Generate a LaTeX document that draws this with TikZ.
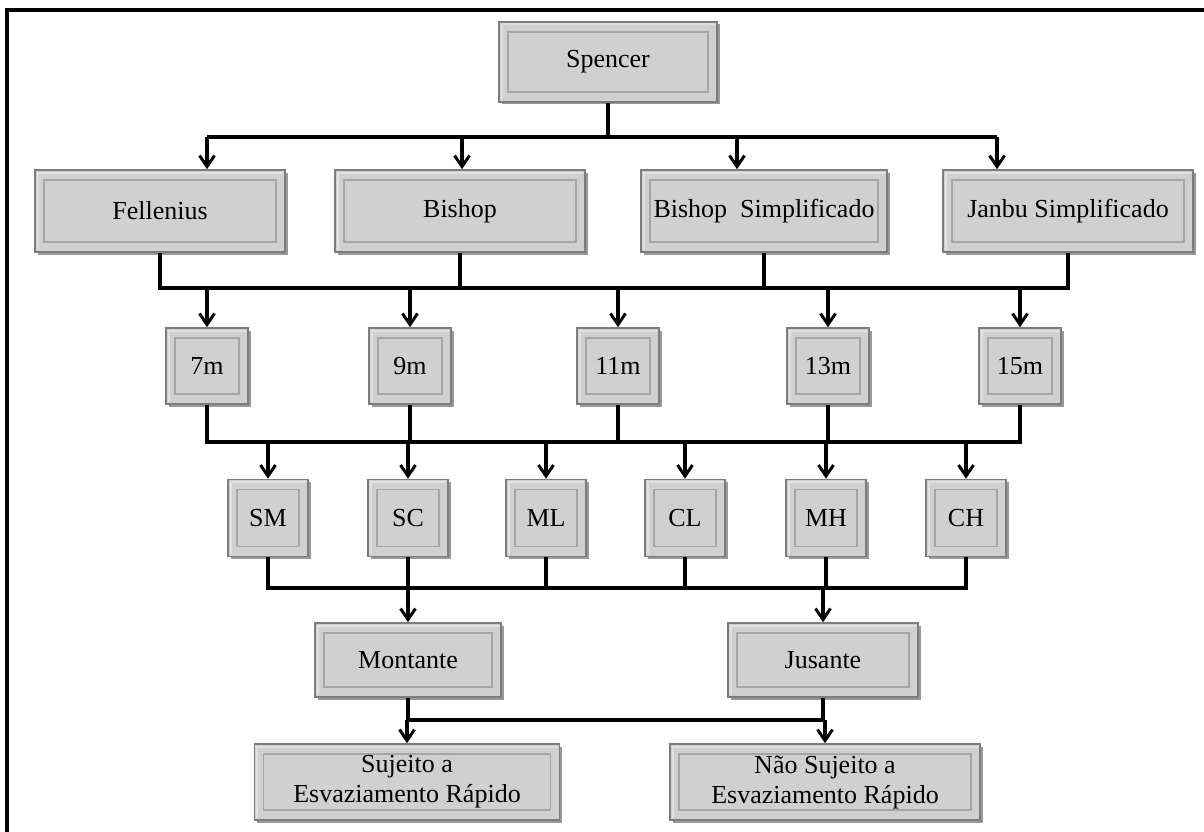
\documentclass[tikz,border=0pt]{standalone}
\usepackage{fontspec}
\setmainfont{Liberation Serif}
\usepackage{tikz}
\usetikzlibrary{calc,shadows,positioning}
\usetikzlibrary{arrows.meta}
\tikzset{>={Straight Barb[width=15pt,length=11pt,line width=3pt]}}
\definecolor{boxgray}{RGB}{208,208,208}
\definecolor{edgegray}{RGB}{125,125,125}
\definecolor{innergray}{RGB}{165,165,165}
\definecolor{bevelgray}{RGB}{225,225,225}

\begin{document}
\begin{tikzpicture}[x=1pt,y=-1pt]
      \tikzstyle{mbox} = [draw=edgegray, line width=1.6pt, fill=boxgray, inner sep=0pt, align=center,
        font=\fontsize{26}{30}\selectfont,
        drop shadow={shadow xshift=2.5pt, shadow yshift=-2.5pt, fill=black, opacity=0.4},
        path picture={
          \draw[bevelgray, line width=2pt]
            ([shift={(2.5pt,2.5pt)}]path picture bounding box.south west) |-
            ([shift={(-2.5pt,-2.5pt)}]path picture bounding box.north east);
          \draw[innergray, line width=1.6pt]
            ([shift={(9pt,-10pt)}]path picture bounding box.north west) rectangle
            ([shift={(-9pt,10pt)}]path picture bounding box.south east);}]
      \tikzstyle{link} = [line width=3.2pt, black]

      \useasboundingbox (0,0) rectangle (1204,832);
      \draw[line width=3.2pt] (7,834) -- (7,10) -- (1206,10);

      \node[mbox, minimum width=218pt, minimum height=80pt] (sp) at (608,62) {Spencer};

      \node[mbox, minimum width=250pt, minimum height=82pt] (fel) at (160,211) {Fellenius};
      \node[mbox, minimum width=250pt, minimum height=82pt] (bis) at (460,211) {Bishop};
      \node[mbox, minimum width=246pt, minimum height=82pt] (bsi) at (764,211) {Bishop\ \ Simplificado};
      \node[mbox, minimum width=250pt, minimum height=82pt] (jsi) at (1068,211) {Janbu Simplificado};

      \node[mbox, minimum width=82pt, minimum height=76pt] (m7) at (207,366) {7m};
      \node[mbox, minimum width=82pt, minimum height=76pt] (m9) at (410,366) {9m};
      \node[mbox, minimum width=82pt, minimum height=76pt] (m11) at (618,366) {11m};
      \node[mbox, minimum width=82pt, minimum height=76pt] (m13) at (828,366) {13m};
      \node[mbox, minimum width=82pt, minimum height=76pt] (m15) at (1020,366) {15m};

      \node[mbox, minimum width=80pt, minimum height=77pt] (sm) at (268,518) {SM};
      \node[mbox, minimum width=80pt, minimum height=77pt] (sc) at (408,518) {SC};
      \node[mbox, minimum width=80pt, minimum height=77pt] (ml) at (546,518) {ML};
      \node[mbox, minimum width=80pt, minimum height=77pt] (cl) at (685,518) {CL};
      \node[mbox, minimum width=80pt, minimum height=77pt] (mh) at (826,518) {MH};
      \node[mbox, minimum width=80pt, minimum height=77pt] (ch) at (966,518) {CH};

      \node[mbox, minimum width=186pt, minimum height=74pt] (mon) at (408,660) {Montante};
      \node[mbox, minimum width=190pt, minimum height=74pt] (jus) at (823,660) {Jusante};

      \node[mbox, minimum width=305pt, minimum height=76pt] (suj) at (407,782) {Sujeito a\\Esvaziamento R\'apido};
      \node[mbox, minimum width=310pt, minimum height=76pt] (nsuj) at (825,782) {N\~ao Sujeito a\\Esvaziamento R\'apido};

      % bus rows
      \coordinate (t1) at (207,137);
      \coordinate (t2) at (462,137);
      \coordinate (t3) at (737,137);
      \coordinate (t4) at (997,137);
      \coordinate (u2) at (0,288);
      \coordinate (u3) at (0,442);
      \coordinate (u4) at (0,588);
      \coordinate (u5) at (0,720);

      \draw[link] (sp.south) -- (sp.south |- t1);
      \draw[link] (t1) -- (t4);
      \foreach \c/\n in {t1/fel,t2/bis,t3/bsi,t4/jsi}
        \draw[link,->] (\c) -- (\c |- \n.north);

      \draw[link] (fel.south) -- (fel.south |- u2) -- (jsi.south |- u2) -- (jsi.south);
      \foreach \n in {bis,bsi}
        \draw[link] (\n.south) -- (\n.south |- u2);
      \foreach \n in {m7,m9,m11,m13,m15}
        \draw[link,->] (\n.north |- u2) -- (\n.north);

      \draw[link] (m7.south) -- (m7.south |- u3) -- (m15.south |- u3) -- (m15.south);
      \foreach \n in {m9,m11,m13}
        \draw[link] (\n.south) -- (\n.south |- u3);
      \foreach \n in {sm,sc,ml,cl,mh,ch}
        \draw[link,->] (\n.north |- u3) -- (\n.north);

      \draw[link] (sm.south) -- (sm.south |- u4) -- (ch.south |- u4) -- (ch.south);
      \foreach \n in {sc,ml,cl,mh}
        \draw[link] (\n.south) -- (\n.south |- u4);
      \foreach \n in {mon,jus}
        \draw[link,->] (\n.north |- u4) -- (\n.north);

      \draw[link] (mon.south) -- (mon.south |- u5) -- (jus.south |- u5) -- (jus.south);
      \foreach \n in {suj,nsuj}
        \draw[link,->] (\n.north |- u5) -- (\n.north);
\end{tikzpicture}
\end{document}
